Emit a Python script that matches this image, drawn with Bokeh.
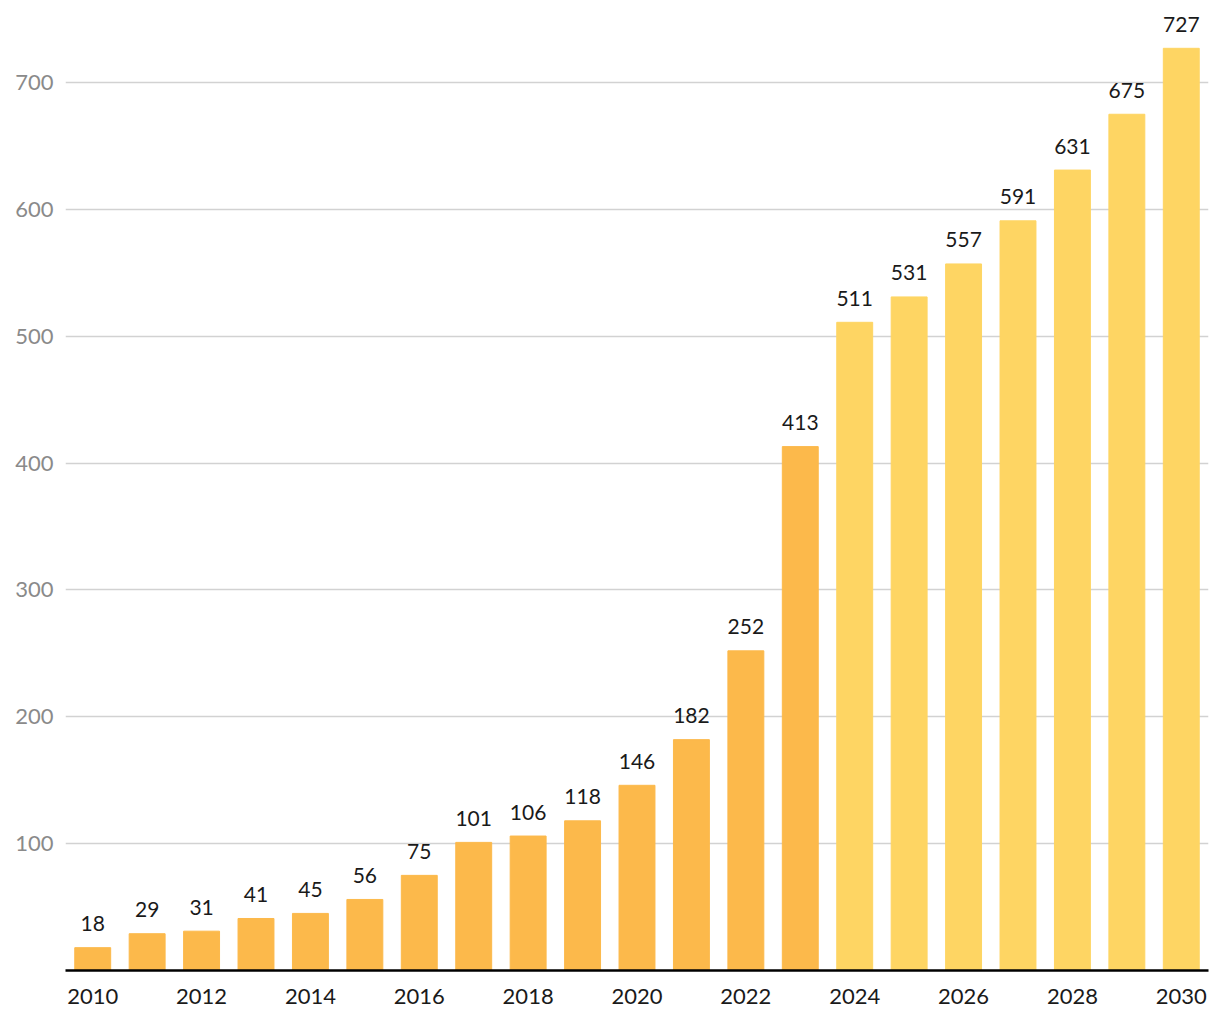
from bokeh.plotting import figure
from bokeh.models import ColumnDataSource, Range1d, FixedTicker, LabelSet
from bokeh.embed import file_html
from bokeh.resources import INLINE
from bokeh.core.properties import value

years = list(range(2010, 2031))
values = [18, 29, 31, 41, 45, 56, 75, 101, 106, 118, 146, 182, 252, 413,
          511, 531, 557, 591, 631, 675, 727]
forecast_start = 2024
x_ticks = list(range(2010, 2031, 2))
y_ticks = [100, 200, 300, 400, 500, 600, 700]

colors = ["#FCB94B" if y < forecast_start else "#FED563" for y in years]
src = ColumnDataSource(dict(x=years, top=values, color=colors,
                            label=[str(v) for v in values]))

FONT = "Lato"

p = figure(width=1220, height=1020, output_backend="svg", toolbar_location=None,
           x_range=Range1d(2009.5, 2030.5), y_range=Range1d(0, 756.8),
           min_border_left=65, min_border_right=12, min_border_top=10,
           min_border_bottom=50)
p.outline_line_color = None
p.background_fill_color = "white"
p.border_fill_color = "white"

p.vbar(x="x", top="top", width=0.66, color="color", source=src)

labels = LabelSet(x="x", y="top", text="label", source=src,
                  text_align="center", text_baseline="middle", y_offset=24,
                  text_font=value(FONT), text_font_size="21px",
                  text_color="#1a1a1a")
p.add_layout(labels)

p.xgrid.grid_line_color = None
p.ygrid.grid_line_color = "#d2d2d2"
p.ygrid.grid_line_width = 1.5
p.ygrid.ticker = FixedTicker(ticks=y_ticks)

p.yaxis.ticker = FixedTicker(ticks=y_ticks)
p.yaxis.axis_line_color = None
p.yaxis.major_tick_line_color = None
p.yaxis.minor_tick_line_color = None
p.yaxis.major_label_text_color = "#8a8a8a"
p.yaxis.major_label_text_font = FONT
p.yaxis.major_label_text_font_size = "22px"
p.yaxis.major_label_standoff = 6

p.xaxis.ticker = FixedTicker(ticks=x_ticks)
p.xaxis.axis_line_color = "black"
p.xaxis.axis_line_width = 2.5
p.xaxis.major_tick_line_color = None
p.xaxis.minor_tick_line_color = None
p.xaxis.major_label_text_color = "#1a1a1a"
p.xaxis.major_label_text_font = FONT
p.xaxis.major_label_text_font_size = "22px"
p.xaxis.major_label_standoff = 12

open("out.html", "w").write(file_html(p, INLINE))
